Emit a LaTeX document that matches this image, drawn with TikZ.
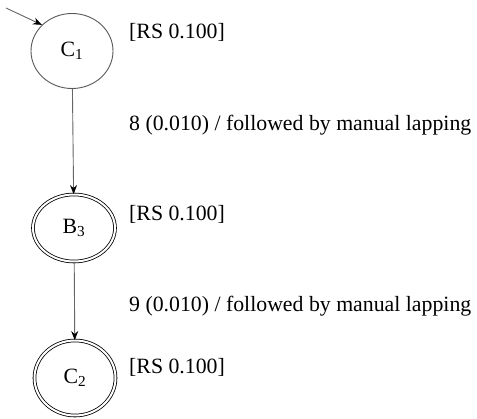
\documentclass[tikz,border=0pt]{standalone}
\usepackage{fontspec}
\setmainfont{Liberation Serif}
\usetikzlibrary{shapes.geometric,arrows.meta}
\begin{document}
\begin{tikzpicture}[x=1pt,y=1pt,
  every node/.style={font=\fontsize{21.8}{24}\selectfont},
  state/.style={ellipse,draw=black!65,line width=0.9pt,inner sep=0pt},
  final/.style={ellipse,draw=black,line width=0.8pt,double,double distance=2pt,inner sep=0pt},
  lbl/.style={anchor=west,inner sep=0pt},
  edge/.style={draw=black!60,line width=0.9pt,-{Stealth[length=9pt,width=7pt,color=black]}}]
\useasboundingbox (0,0) rectangle (477,-419);
\node[state,minimum width=82pt,minimum height=75pt] (C1) at (72,-51) {C\textsubscript{1}};
\node[final,minimum width=82pt,minimum height=67pt] (B3) at (74,-228) {B\textsubscript{3}};
\node[final,minimum width=81pt,minimum height=75pt] (C2) at (75,-378) {C\textsubscript{2}};
\coordinate (start) at (6,-8);
\draw[edge] (start) -- (C1.139);
\draw[edge] (C1) -- (B3);
\draw[edge] (B3) -- (C2);
\node[lbl] (r1) at (129,-32) {[RS 0.100]};
\node[lbl] (r2) at (129,-214) {[RS 0.100]};
\node[lbl] (r3) at (129,-367) {[RS 0.100]};
\node[lbl] (e1) at (129,-125) {8 (0.010) / followed by manual lapping};
\node[lbl] (e2) at (129,-306) {9 (0.010) / followed by manual lapping};
\end{tikzpicture}
\end{document}
